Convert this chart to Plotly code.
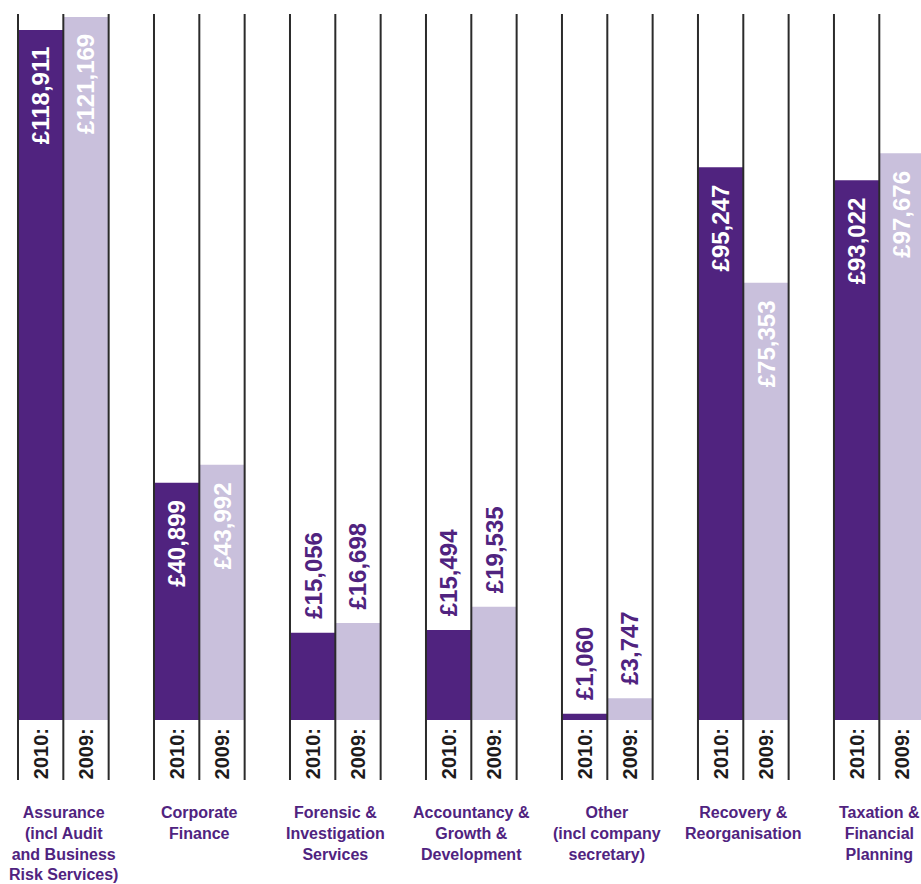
import plotly.graph_objects as go

categories = [
    "Assurance<br>(incl Audit<br>and Business<br>Risk Services)",
    "Corporate<br>Finance",
    "Forensic &<br>Investigation<br>Services",
    "Accountancy &<br>Growth &<br>Development",
    "Other<br>(incl company<br>secretary)",
    "Recovery &<br>Reorganisation",
    "Taxation &<br>Financial<br>Planning",
]
fees_2010 = [118911, 40899, 15056, 15494, 1060, 95247, 93022]
fees_2009 = [121169, 43992, 16698, 19535, 3747, 75353, 97676]
year_labels = ["2010:", "2009:"]

PURPLE = "#50237f"
LAV = "#c9c0dc"
LINE = "#2b2b2b"
FONT = "Liberation Sans"

n = len(categories)
x2010 = [3 * i + 0.5 for i in range(n)]
x2009 = [3 * i + 1.5 for i in range(n)]

fig = go.Figure()
fig.add_trace(go.Bar(x=x2010, y=fees_2010, width=1, marker=dict(color=PURPLE, line=dict(width=0)),
                     hoverinfo="skip", name="2010"))
fig.add_trace(go.Bar(x=x2009, y=fees_2009, width=1, marker=dict(color=LAV, line=dict(width=0)),
                     hoverinfo="skip", name="2009"))

shapes = []
for i in range(n):
    for k in range(3):
        shapes.append(dict(type="line", xref="x", yref="paper", x0=3 * i + k, x1=3 * i + k,
                           y0=0, y1=1, line=dict(color=LINE, width=2), layer="above"))

annotations = []
series = [(x2010, fees_2010, "#ffffff"), (x2009, fees_2009, "#ffffff")]
for s, (xs, vals, inside_col) in enumerate(series):
    for x, v in zip(xs, vals):
        txt = "<b>£{:,}</b>".format(v)
        if v > 30000:
            annotations.append(dict(x=x, y=v, xref="x", yref="y", text=txt, textangle=-90,
                                    showarrow=False, xanchor="center", yanchor="top", yshift=-15,
                                    font=dict(family=FONT, size=24, color=inside_col)))
        else:
            annotations.append(dict(x=x, y=v, xref="x", yref="y", text=txt, textangle=-90,
                                    showarrow=False, xanchor="center", yanchor="bottom", yshift=12,
                                    font=dict(family=FONT, size=24, color=PURPLE)))
        annotations.append(dict(x=x, y=0, xref="x", yref="y", text="<b>" + year_labels[s] + "</b>",
                                textangle=-90, showarrow=False, xanchor="center", yanchor="top",
                                yshift=-6, font=dict(family=FONT, size=20, color="#1e1b1c")))

for i, c in enumerate(categories):
    annotations.append(dict(x=3 * i + 1, y=0, xref="x", yref="y", text="<b>" + c + "</b>",
                            showarrow=False, xanchor="center", yanchor="top", yshift=-82,
                            align="center", font=dict(family=FONT, size=16, color=PURPLE)))

fig.update_layout(
    width=921, height=884,
    margin=dict(l=0, r=0, t=14, b=104, pad=0),
    barmode="overlay",
    showlegend=False,
    plot_bgcolor="white", paper_bgcolor="white",
    xaxis=dict(range=[-0.397, 19.92], showgrid=False, zeroline=False, showticklabels=False,
               showline=False, fixedrange=True),
    yaxis=dict(range=[-10340, 121670], showgrid=False, zeroline=False, showticklabels=False,
               showline=False, fixedrange=True),
    shapes=shapes,
    annotations=annotations,
)

fig.write_html("out.html")
